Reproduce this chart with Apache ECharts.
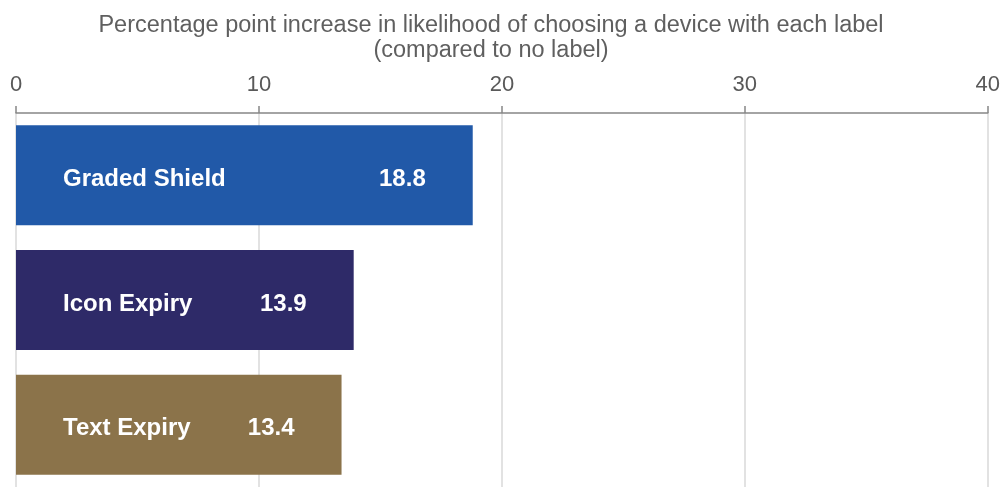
<!DOCTYPE html>
<html><head><meta charset="utf-8">
<script src="https://cdn.jsdelivr.net/npm/echarts@6/dist/echarts.min.js"></script>
<style>html,body{margin:0;padding:0;background:#fff}#c{width:1003px;height:487px}</style>
</head><body><div id="c"></div>
<script>
const categories = ['Graded Shield', 'Icon Expiry', 'Text Expiry'];
const values = [18.8, 13.9, 13.4];
const barColors = ['#2159A8', '#2E2A68', '#8B734A'];
const xTicks = [0, 10, 20, 30, 40];
const titleText = 'Percentage point increase in likelihood of choosing a device with each label\n(compared to no label)';
const FONT = 'Liberation Sans, Arial, sans-serif';

const chart = echarts.init(document.getElementById('c'));
chart.setOption({
  animation: false,
  textStyle: { fontFamily: FONT },
  title: {
    text: titleText,
    left: 486, textAlign: 'center', top: 8,
    textStyle: { fontSize: 23.5, fontWeight: 'normal', color: '#5f5f5f', lineHeight: 25, fontFamily: FONT }
  },
  grid: { left: 16, right: 12, top: 113, bottom: -3 },
  xAxis: {
    type: 'value', position: 'top', min: xTicks[0], max: xTicks[xTicks.length - 1], interval: 10,
    axisLine: { show: true, lineStyle: { color: '#878787', width: 1.5 } },
    axisTick: { show: true, length: 7, lineStyle: { color: '#878787', width: 1.5 } },
    axisLabel: { color: '#595959', fontSize: 22, margin: 17, fontFamily: FONT },
    splitLine: { show: true, lineStyle: { color: '#d9d9d9', width: 1.5 } }
  },
  yAxis: {
    type: 'category', data: categories, inverse: true,
    axisLine: { show: false }, axisTick: { show: false }, axisLabel: { show: false }
  },
  series: [{
    type: 'bar', barWidth: 100,
    data: values.map((v, i) => ({ value: v, itemStyle: { color: barColors[i] } })),
    label: { show: true, position: 'insideRight', distance: 47, offset: [0, 4], color: '#fff', fontWeight: 'bold', fontSize: 24, fontFamily: FONT }
  }, {
    type: 'bar', barWidth: 100, barGap: '-100%', silent: true,
    data: values,
    itemStyle: { color: 'rgba(0,0,0,0)' },
    label: { show: true, position: 'insideLeft', distance: 47, offset: [0, 4], formatter: '{b}', color: '#fff', fontWeight: 'bold', fontSize: 24, fontFamily: FONT }
  }]
});
</script></body></html>
